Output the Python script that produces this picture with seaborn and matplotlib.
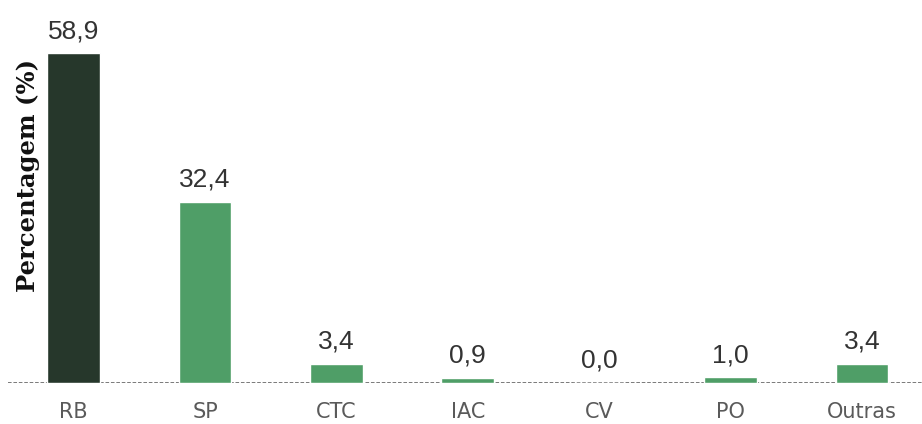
import pandas as pd
import seaborn as sns
import matplotlib.pyplot as plt

# Values
categories = ['RB', 'SP', 'CTC', 'IAC', 'CV', 'PO', 'Outras']
values = [58.9, 32.4, 3.4, 0.9, 0.0, 1.0, 3.4]
labels = ['58,9', '32,4', '3,4', '0,9', '0,0', '1,0', '3,4']
colors = ['#26372b', '#4f9e67', '#4f9e67', '#4f9e67', '#4f9e67', '#4f9e67', '#4f9e67']

df = pd.DataFrame({'cat': categories, 'val': values})

sns.set_style('white')
fig = plt.figure(figsize=(9.22, 4.24), dpi=100)
ax = fig.add_axes([8 / 922, 41 / 424, 1 - 8 / 922 + 0.006, 1 - 41 / 424])

sns.barplot(data=df, x='cat', y='val', hue='cat', palette=colors,
            width=0.4, legend=False, ax=ax, zorder=3, saturation=1)

ax.axhline(0, color='#6f6f6f', lw=1.3, ls=(0, (2, 1)), zorder=2)

for i, (v, lab) in enumerate(zip(values, labels)):
    ax.text(i, v + 1.8, lab, ha='center', va='bottom', fontsize=19,
            color='#333333', family='Liberation Sans')

ax.set_xlim(-0.5, 6.5)
ax.set_ylim(0, 68.4)
ax.set_xlabel('')
ax.set_ylabel('')
ax.set_yticks([])
ax.tick_params(axis='x', length=0, pad=14, labelsize=15, labelcolor='#5a5a5a')
for s in ax.spines.values():
    s.set_visible(False)

fig.text(28 / 922, 1 - 175 / 424, 'Percentagem (%)', rotation=90,
         ha='center', va='center', fontsize=17.5, fontweight='bold',
         family='DejaVu Serif', color='#111111')

fig.savefig('out.png', dpi=100)
